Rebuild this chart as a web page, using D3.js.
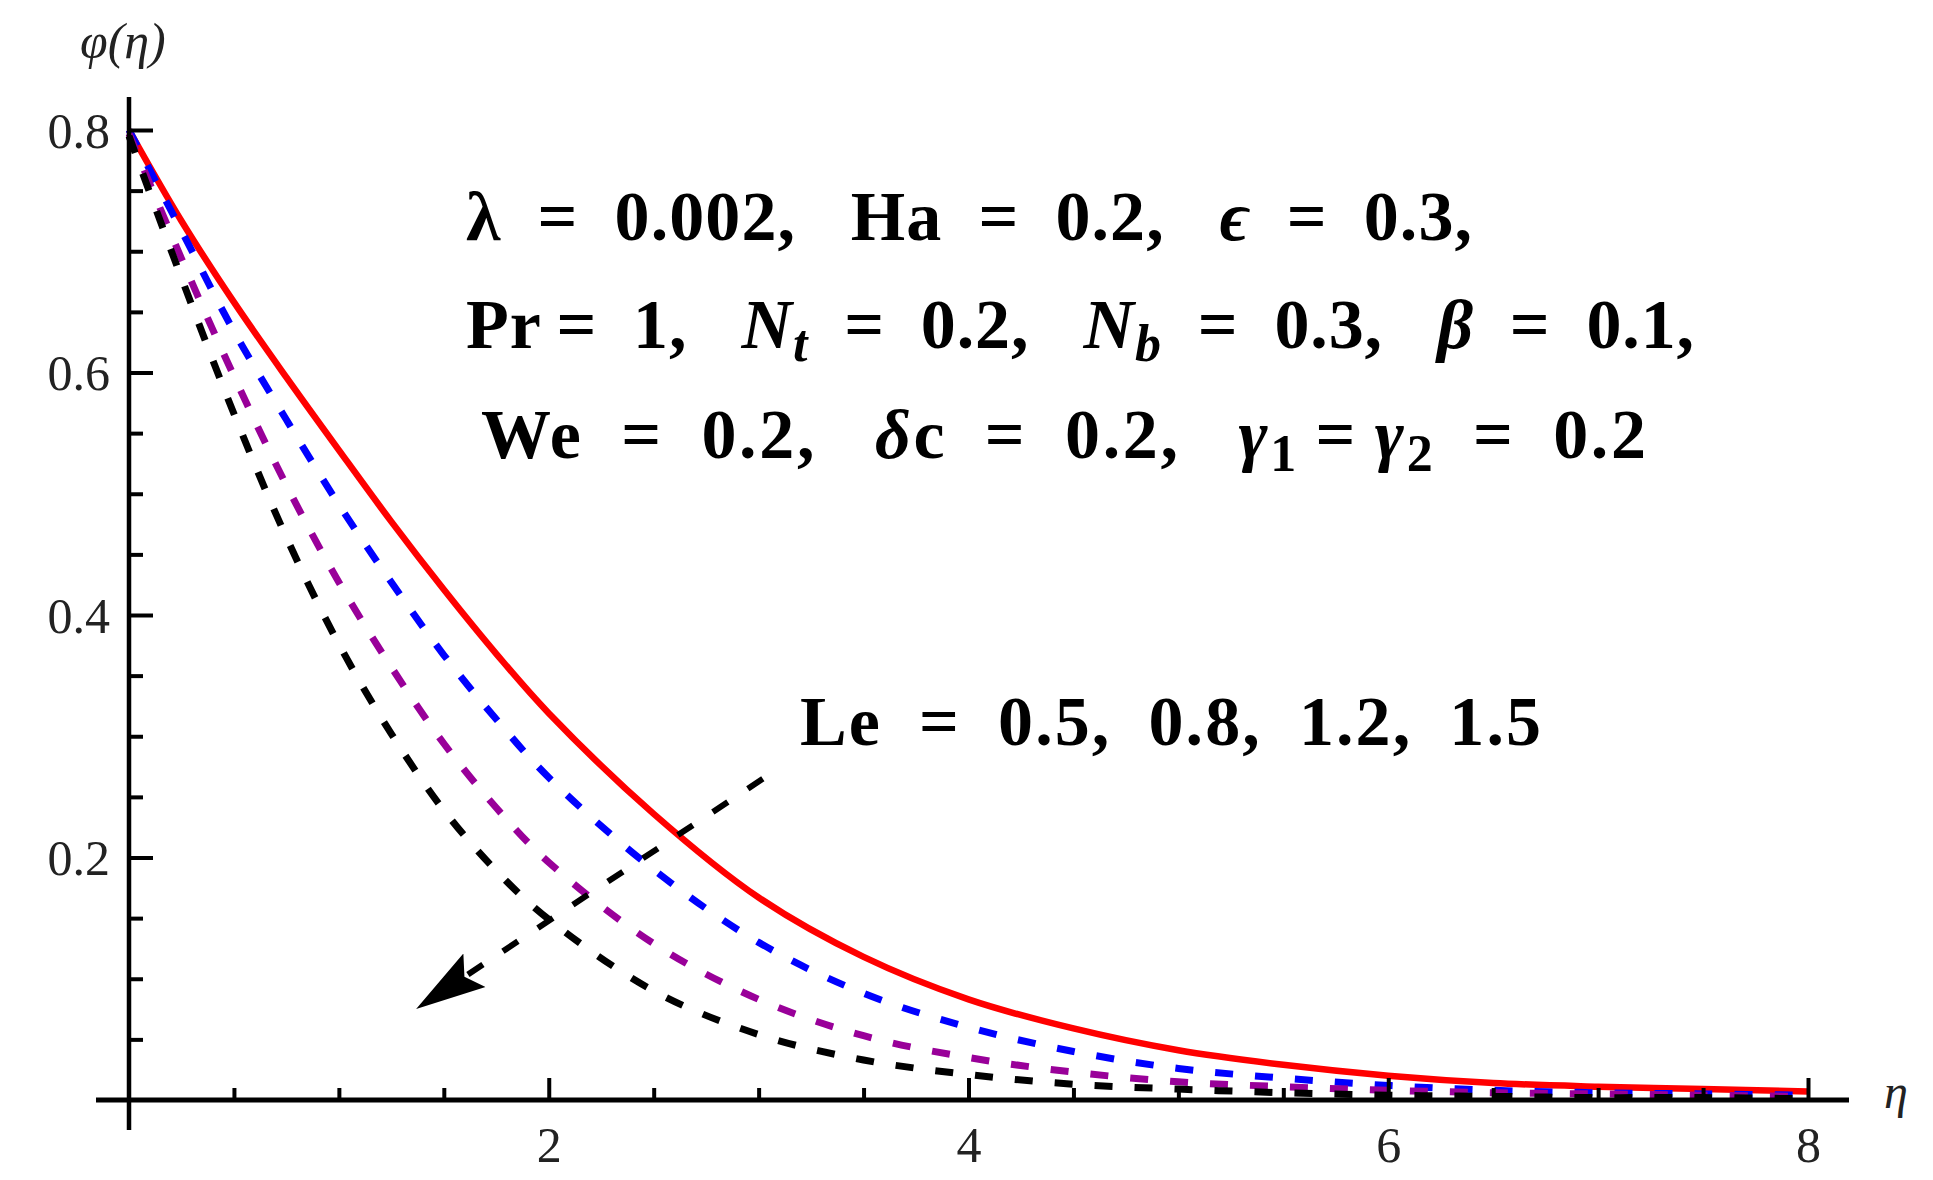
<!DOCTYPE html>
<html>
<head>
<meta charset="utf-8">
<script src="https://cdn.jsdelivr.net/npm/d3@7"></script>
<style>
  body { margin: 0; background: #fff; }
</style>
</head>
<body>
<script>
// values: phi(eta) for four Lewis numbers
const eta = [0, 0.25, 0.5, 0.75, 1, 1.25, 1.5, 1.75, 2, 2.5, 3, 3.5, 4, 4.5, 5, 5.5, 6, 6.5, 7, 7.5, 8];
const phiLe05 = [0.800, 0.725, 0.658, 0.596, 0.536, 0.477, 0.421, 0.368, 0.319, 0.236, 0.167, 0.118, 0.083, 0.059, 0.041, 0.029, 0.020, 0.014, 0.011, 0.009, 0.007];
const phiLe08 = [0.800, 0.717, 0.634, 0.561, 0.491, 0.427, 0.367, 0.314, 0.266, 0.190, 0.130, 0.088, 0.060, 0.040, 0.026, 0.018, 0.012, 0.008, 0.006, 0.005, 0.004];
const phiLe12 = [0.797, 0.694, 0.597, 0.507, 0.427, 0.357, 0.294, 0.241, 0.196, 0.129, 0.083, 0.053, 0.035, 0.023, 0.015, 0.011, 0.008, 0.006, 0.005, 0.004, 0.003];
const phiLe15 = [0.795, 0.678, 0.566, 0.464, 0.376, 0.302, 0.239, 0.189, 0.149, 0.090, 0.054, 0.033, 0.021, 0.013, 0.009, 0.006, 0.004, 0.003, 0.002, 0.002, 0.001];

const xTicks = [2, 4, 6, 8];
const xMinor = [0.5, 1, 1.5, 2.5, 3, 3.5, 4.5, 5, 5.5, 6.5, 7, 7.5];
const yTicks = [0.2, 0.4, 0.6, 0.8];
const yMinor = [0.05, 0.1, 0.15, 0.25, 0.3, 0.35, 0.45, 0.5, 0.55, 0.65, 0.7, 0.75];

// arrow across the curves (eta, phi)
const arrowFrom = [3.02, 0.265];
const arrowTo = [1.376, 0.076];

const series = [
  { name: "Le=0.5", values: phiLe05, color: "#ff0000", dash: null },
  { name: "Le=0.8", values: phiLe08, color: "#0000ff", dash: "18,22" },
  { name: "Le=1.2", values: phiLe12, color: "#990099", dash: "18,22" },
  { name: "Le=1.5", values: phiLe15, color: "#000000", dash: "18,22" }
];

const width = 1933, height = 1180;
const serif = "'Liberation Serif', 'Times New Roman', serif";

const svg = d3.select("body")
  .append("svg")
  .attr("width", width)
  .attr("height", height)
  .style("background", "#fff");

const x = d3.scaleLinear().domain([0, 8]).range([129, 1808]);
const y = d3.scaleLinear().domain([0, 0.8]).range([1100, 130]);

// curves
const line = d3.line()
  .x(d => x(d[0]))
  .y(d => y(d[1]))
  .curve(d3.curveCatmullRom.alpha(0.5));

svg.selectAll("path.curve")
  .data(series)
  .enter()
  .append("path")
  .attr("class", "curve")
  .attr("d", d => line(eta.map((e, i) => [e, d.values[i]])))
  .attr("fill", "none")
  .attr("stroke", d => d.color)
  .attr("stroke-width", d => d.dash ? 7 : 6.5)
  .attr("stroke-dasharray", d => d.dash);

// axis lines
svg.append("line")
  .attr("x1", 96).attr("x2", 1849)
  .attr("y1", y(0)).attr("y2", y(0))
  .attr("stroke", "#000").attr("stroke-width", 5);
svg.append("line")
  .attr("x1", x(0)).attr("x2", x(0))
  .attr("y1", 97).attr("y2", 1130)
  .attr("stroke", "#000").attr("stroke-width", 4.5);

// x ticks (pointing up), labels below
svg.append("g")
  .attr("transform", `translate(0,${y(0)})`)
  .call(d3.axisBottom(x).tickValues(xTicks).tickSize(-22).tickPadding(26).tickFormat(d3.format("d")));
svg.append("g")
  .attr("transform", `translate(0,${y(0)})`)
  .call(d3.axisBottom(x).tickValues(xMinor).tickSize(-12).tickFormat(""));

// y ticks (pointing right), labels left
const yAxis = svg.append("g")
  .attr("transform", `translate(${x(0)},0)`)
  .call(d3.axisLeft(y).tickValues(yTicks).tickSize(-24).tickPadding(19).tickFormat(d3.format(".1f")));
svg.append("g")
  .attr("transform", `translate(${x(0)},0)`)
  .call(d3.axisLeft(y).tickValues(yMinor).tickSize(-14).tickFormat(""));

svg.selectAll(".domain").remove();
svg.selectAll(".tick line").attr("stroke", "#000").attr("stroke-width", 4);
svg.selectAll(".tick text")
  .attr("fill", "#222")
  .style("font-family", serif)
  .style("font-size", "50px");
yAxis.selectAll(".tick text").attr("dy", "0.34em");

// axis labels
svg.append("text")
  .attr("x", 80).attr("y", 58)
  .style("font-family", serif).style("font-size", "50px").style("font-style", "italic")
  .attr("fill", "#222")
  .text("φ(η)");
svg.append("text")
  .attr("x", 1884).attr("y", 1108)
  .style("font-family", serif).style("font-size", "48px").style("font-style", "italic")
  .attr("fill", "#222")
  .text("η");

// arrow
svg.append("defs").append("marker")
  .attr("id", "head")
  .attr("markerUnits", "userSpaceOnUse")
  .attr("viewBox", "0 0 70 46")
  .attr("markerWidth", 70).attr("markerHeight", 46)
  .attr("refX", 68).attr("refY", 23)
  .attr("orient", "auto")
  .append("path")
  .attr("d", "M0,3 L70,23 L0,43 L12,23 Z")
  .attr("fill", "#000");

svg.append("line")
  .attr("x1", x(arrowFrom[0])).attr("y1", y(arrowFrom[1]))
  .attr("x2", x(arrowTo[0])).attr("y2", y(arrowTo[1]))
  .attr("stroke", "#000").attr("stroke-width", 6)
  .attr("stroke-dasharray", "18,24")
  .attr("marker-end", "url(#head)");

// annotation text
const E = "\u2002";
const lines = [
  { x: 466, y: 240, len: 1006, segs: [
    { t: "λ" }, { t: E + "=" + E }, { t: "0.002," }, { t: E + " " },
    { t: "Ha" }, { t: E + "=" + E }, { t: "0.2," }, { t: E + " " },
    { t: "ϵ", i: true }, { t: E + "=" + E }, { t: "0.3," }
  ]},
  { x: 466, y: 348, len: 1228, segs: [
    { t: "Pr" }, { t: "\u2009=" + E }, { t: "1," }, { t: E + " " },
    { t: "N", i: true }, { t: "t", i: true, sub: true }, { t: E + "=" + E }, { t: "0.2," }, { t: E + " " },
    { t: "N", i: true }, { t: "b", i: true, sub: true }, { t: E + "=" + E }, { t: "0.3," }, { t: E + " " },
    { t: "β", i: true }, { t: E + "=" + E }, { t: "0.1," }
  ]},
  { x: 481, y: 458, len: 1165, segs: [
    { t: "We" }, { t: E + "=" + E }, { t: "0.2," }, { t: E + " " },
    { t: "δ", i: true }, { t: "c" }, { t: E + "=" + E }, { t: "0.2," }, { t: E + " " },
    { t: "γ", i: true }, { t: "1", sub: true }, { t: "\u2009=\u2009" },
    { t: "γ", i: true }, { t: "2", sub: true }, { t: E + "=" + E }, { t: "0.2" }
  ]},
  { x: 800, y: 745, len: 741, segs: [
    { t: "Le" }, { t: E + "=" + E }, { t: "0.5," + E + "0.8," + E + "1.2," + E + "1.5" }
  ]}
];

lines.forEach(l => {
  const txt = svg.append("text")
    .attr("x", l.x).attr("y", l.y)
    .attr("textLength", l.len)
    .attr("lengthAdjust", "spacing")
    .style("font-family", serif)
    .style("font-size", "70px")
    .style("font-weight", "bold")
    .attr("fill", "#000");
  let shifted = false;
  l.segs.forEach(s => {
    const ts = txt.append("tspan").text(s.t);
    if (s.i) ts.style("font-style", "italic");
    if (s.sub) {
      ts.style("font-size", "52px").attr("dy", 13);
      shifted = true;
    } else if (shifted) {
      ts.attr("dy", -13);
      shifted = false;
    }
  });
});
</script>
</body>
</html>
